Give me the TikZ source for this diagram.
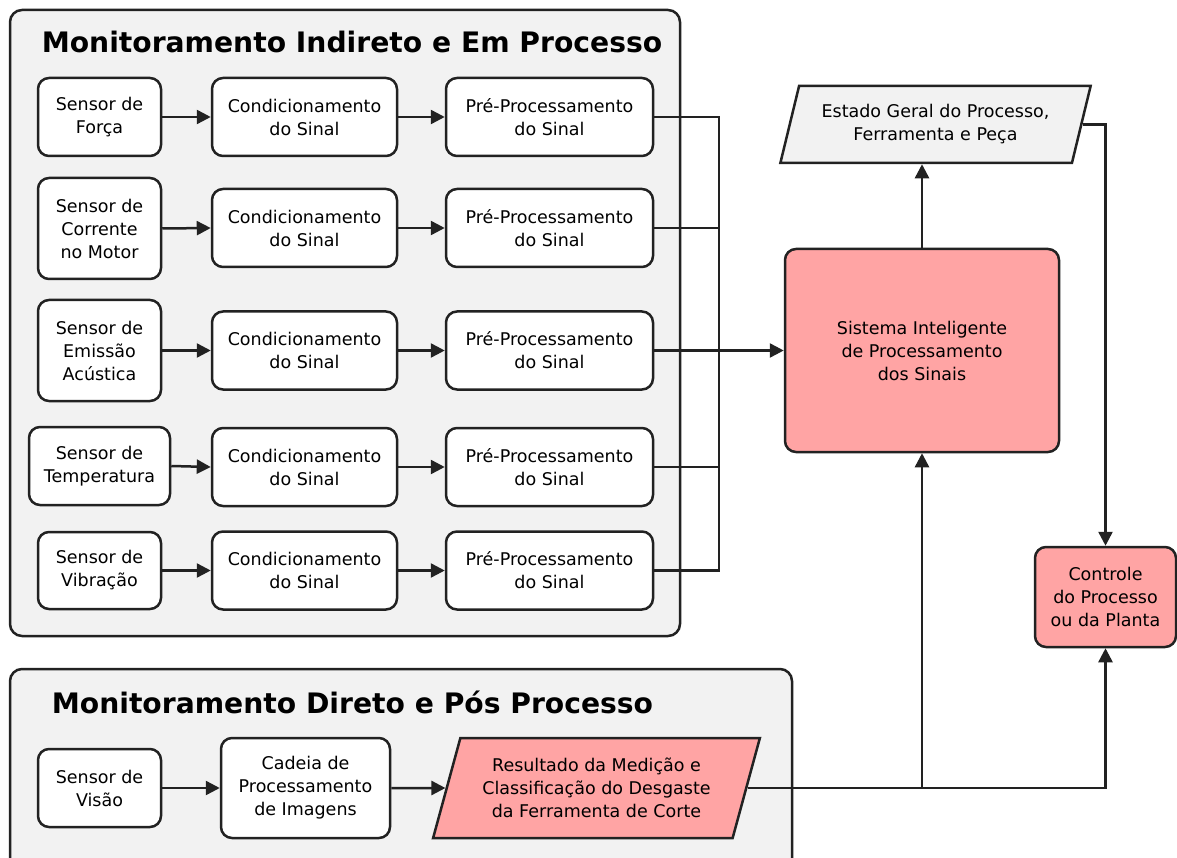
\documentclass[tikz,border=0pt]{standalone}
\usepackage{fontspec}
\setmainfont{DejaVu Sans}
\usetikzlibrary{arrows.meta,shapes.geometric}
\definecolor{linec}{HTML}{222222}
\definecolor{panelfill}{HTML}{F2F2F2}
\definecolor{pinkfill}{HTML}{FFA4A4}
\newcommand{\boxfont}{\fontsize{17.5}{23}\selectfont}
\newcommand{\titlefont}{\fontsize{28.2}{32}\selectfont\bfseries}
\tikzset{
  panel/.style={draw=linec, line width=2.5pt, rounded corners=12pt, fill=panelfill},
  blk/.style={draw=linec, line width=2.5pt, rounded corners=11pt, fill=white,
    align=center, font=\boxfont, inner sep=2pt, text=black},
  hot/.style={blk, fill=pinkfill},
  iobox/.style={trapezium, trapezium left angle=70, trapezium right angle=110,
    trapezium stretches=true, draw=linec, line width=2.5pt, align=center,
    font=\boxfont, inner sep=2pt},
  flow/.style={draw=linec, line width=2.5pt, -{Triangle[length=14pt,width=14pt]}},
  wire/.style={draw=linec, line width=2.5pt},
  paneltitle/.style={font=\titlefont, anchor=base}
}
\begin{document}
\begin{tikzpicture}[x=1pt,y=-1pt]
\useasboundingbox (0,0) rectangle (1177,858);

% panels
\draw[panel] (10,10) rectangle (680,636);
\draw[panel] (10,669) rectangle (792,880);
\node[paneltitle] (t1) at (352,53) {Monitoramento Indireto e Em Processo};
\node[paneltitle] (t2) at (352.5,713) {Monitoramento Direto e Pós Processo};

% sensor chains
\node[blk, minimum width=123pt, minimum height=78pt]  (s1) at (99.5,117)   {Sensor de\\Força};
\node[blk, minimum width=123pt, minimum height=101pt] (s2) at (99.5,228.5) {Sensor de\\Corrente\\no Motor};
\node[blk, minimum width=123pt, minimum height=101pt] (s3) at (99.5,350.5) {Sensor de\\Emissão\\Acústica};
\node[blk, minimum width=141pt, minimum height=78pt]  (s4) at (99.5,466)   {Sensor de\\Temperatura};
\node[blk, minimum width=123pt, minimum height=77pt]  (s5) at (99.5,570.5) {Sensor de\\Vibração};

\foreach \i/\y in {1/117,2/228,3/350.5,4/467,5/570.5}{
  \node[blk, minimum width=185pt, minimum height=78pt] (c\i) at (304.5,\y) {Condicionamento\\do Sinal};
  \node[blk, minimum width=207pt, minimum height=78pt] (p\i) at (549.5,\y) {Pré-Processamento\\do Sinal};
  \draw[flow] (s\i.east) -- (c\i.west);
  \draw[flow] (c\i.east) -- (p\i.west);
}

% right side
\node[hot, minimum width=274pt, minimum height=203pt] (sis) at (922,350.5)
  {Sistema Inteligente\\de Processamento\\dos Sinais};
\node[iobox, fill=panelfill, minimum width=311pt, minimum height=77pt] (est) at (935.5,124.5)
  {Estado Geral do Processo,\\Ferramenta e Peça};
\node[hot, minimum width=141pt, minimum height=100pt] (ctl) at (1105.5,597)
  {Controle\\do Processo\\ou da Planta};

% bus into the processing system
\coordinate (bus) at (719,350.5);
\foreach \i in {1,2,4,5}{
  \draw[wire] (p\i.east) -| (bus);
}
\draw[flow] (p3.east) -- (sis.west);
\draw[flow] (sis.north) -- (sis.north |- est.south);
\draw[flow] (est.east) -| (ctl.north);

% direct monitoring chain
\node[blk, minimum width=123pt, minimum height=78pt] (v) at (99.5,788) {Sensor de\\Visão};
\node[blk, minimum width=169pt, minimum height=100pt] (cad) at (305.5,788)
  {Cadeia de\\Processamento\\de Imagens};
\node[iobox, fill=pinkfill, minimum width=327pt, minimum height=100pt] (res) at (596.5,788)
  {Resultado da Medição e\\Classificação do Desgaste\\da Ferramenta de Corte};
\draw[flow] (v.east) -- (cad.west);
\draw[flow] (cad.east) -- (res.west);
\draw[flow] (res.east) -| (sis.south);
\draw[flow] (res.east) -| (ctl.south);
\end{tikzpicture}
\end{document}
